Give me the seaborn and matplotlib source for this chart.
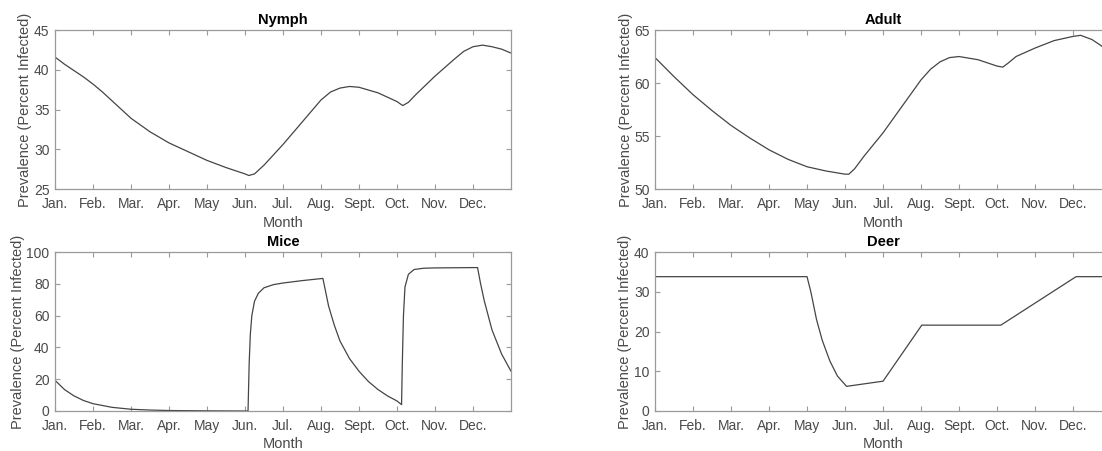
import numpy as np
import pandas as pd
import matplotlib
matplotlib.use('Agg')
import matplotlib.pyplot as plt
import seaborn as sns

# month labels (tick at the start of each month, x in month units)
month_labels = ['Jan.', 'Feb.', 'Mar.', 'Apr.', 'May', 'Jun.', 'Jul.',
                'Aug.', 'Sept.', 'Oct.', 'Nov.', 'Dec.']

# values
nymph_x = [0.0, 0.25, 0.5, 0.75, 1.0, 1.25, 1.5, 1.75, 2.0, 2.5, 3.0, 3.5, 4.0, 4.5,
           5.0, 5.1, 5.25, 5.5, 6.0, 6.5, 7.0, 7.25, 7.5, 7.75, 8.0, 8.5, 9.0, 9.15,
           9.3, 9.5, 10.0, 10.5, 10.75, 11.0, 11.25, 11.5, 11.75, 12.0]
nymph_y = [41.6, 40.7, 39.9, 39.1, 38.2, 37.2, 36.1, 35.0, 33.9, 32.2, 30.8, 29.7, 28.6, 27.7,
           26.9, 26.7, 26.9, 28.0, 30.6, 33.4, 36.2, 37.2, 37.7, 37.9, 37.8, 37.1, 36.0, 35.5,
           35.9, 36.9, 39.2, 41.3, 42.3, 42.9, 43.1, 42.9, 42.6, 42.1]

adult_x = [0.0, 0.5, 1.0, 1.5, 2.0, 2.5, 3.0, 3.5, 4.0, 4.5, 5.0, 5.1, 5.25, 5.5, 6.0, 6.5,
           7.0, 7.25, 7.5, 7.75, 8.0, 8.5, 9.0, 9.15, 9.3, 9.5, 10.0, 10.5, 11.0, 11.2,
           11.5, 11.75, 12.0]
adult_y = [62.4, 60.6, 58.9, 57.4, 56.0, 54.8, 53.7, 52.8, 52.1, 51.7, 51.4, 51.4, 51.9, 53.1,
           55.3, 57.8, 60.3, 61.3, 62.0, 62.4, 62.5, 62.2, 61.6, 61.5, 61.9, 62.5, 63.3, 64.0,
           64.4, 64.5, 64.1, 63.5, 62.6]

mice_x = [0.0, 0.25, 0.5, 0.75, 1.0, 1.5, 2.0, 2.5, 3.0, 4.0, 5.0, 5.08, 5.11, 5.14, 5.18,
          5.25, 5.35, 5.5, 5.75, 6.0, 6.5, 7.05, 7.2, 7.35, 7.5, 7.75, 8.0, 8.25, 8.5, 8.75,
          9.0, 9.12, 9.14, 9.17, 9.21, 9.3, 9.45, 9.7, 10.0, 11.0, 11.12, 11.2, 11.3, 11.5,
          11.75, 12.0]
mice_y = [19.3, 13.5, 9.5, 6.6, 4.6, 2.3, 1.1, 0.6, 0.3, 0.1, 0.0, 0.0, 30, 48, 60,
          69, 74, 77.5, 79.5, 80.5, 82.0, 83.4, 66, 54, 44, 33, 25, 18.5, 13.5, 9.5,
          6.3, 4.0, 30, 60, 78, 86, 89, 89.8, 90.0, 90.2, 90.2, 80, 69, 51,
          36, 25]

deer_x = [0.0, 4.0, 4.1, 4.25, 4.4, 4.6, 4.8, 5.04, 6.0, 7.02, 9.1, 11.08, 12.0]
deer_y = [33.8, 33.8, 30.0, 23.0, 17.8, 12.6, 8.8, 6.2, 7.5, 21.6, 21.6, 33.8, 33.8]

sns.set_style('white')
plt.rcParams['font.family'] = ['Liberation Sans', 'DejaVu Sans']

text_c = '#4a4a4a'
spine_c = '#9a9a9a'
line_c = '#454545'

fig = plt.figure(figsize=(11.02, 4.51), dpi=100)

panels = [
    ('Nymph', nymph_x, nymph_y, (25, 45), [25, 30, 35, 40, 45], [0.0499, 0.5809]),
    ('Adult', adult_x, adult_y, (50, 65), [50, 55, 60, 65], [0.5944, 0.5809]),
    ('Mice', mice_x, mice_y, (0, 100), [0, 20, 40, 60, 80, 100], [0.0499, 0.0887]),
    ('Deer', deer_x, deer_y, (0, 40), [0, 10, 20, 30, 40], [0.5944, 0.0887]),
]

for title, xs, ys, ylim, yticks, pos in panels:
    ax = fig.add_axes([pos[0], pos[1], 0.4138, 0.3525])
    df = pd.DataFrame({'Month': xs, 'Prevalence': ys})
    sns.lineplot(data=df, x='Month', y='Prevalence', ax=ax, estimator=None,
                 sort=False, color=line_c, linewidth=0.9)
    ax.set_xlim(0, 12)
    ax.set_ylim(*ylim)
    ax.set_xticks(range(12))
    ax.set_xticklabels(month_labels)
    ax.set_yticks(yticks)
    ax.tick_params(direction='in', length=3.5, width=0.8, color=spine_c,
                   labelsize=10, labelcolor=text_c, top=True, right=True,
                   bottom=True, left=True)
    ax.tick_params(axis='x', pad=6)
    ax.tick_params(axis='y', pad=4)
    for s in ax.spines.values():
        s.set_color(spine_c)
        s.set_linewidth(0.9)
    ax.set_title(title, fontsize=10.5, fontweight='bold', color='black', pad=4)
    ax.set_xlabel('Month', fontsize=10.5, color=text_c, labelpad=3)
    ax.set_ylabel('Prevalence (Percent Infected)', fontsize=10.5, color=text_c, labelpad=1)

fig.savefig('out.png', dpi=100)
